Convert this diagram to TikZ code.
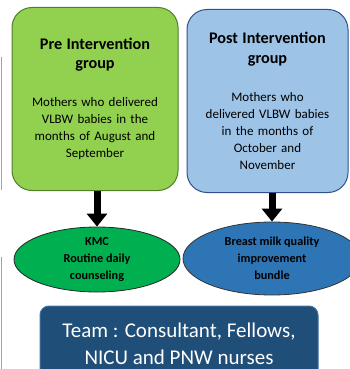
\documentclass[tikz,border=0pt]{standalone}
\usepackage{fontspec}
\setmainfont{Carlito}
\usepackage{xcolor}
\usepackage{tikz}
\usetikzlibrary{shapes.geometric, arrows.meta, positioning}
\definecolor{pregreen}{HTML}{92D050}
\definecolor{preborder}{HTML}{507E2C}
\definecolor{postblue}{HTML}{9DC3E6}
\definecolor{postborder}{HTML}{2F528F}
\definecolor{kmcgreen}{HTML}{00B050}
\definecolor{bundleblue}{HTML}{2E75B6}
\definecolor{teamblue}{HTML}{1F4E79}
\definecolor{teamborder}{HTML}{41719C}
\definecolor{edgeblue}{HTML}{8EA9C8}
\tikzstyle{groupbox} = [rectangle, rounded corners=20pt, minimum height=183pt, text centered, text width=156pt, inner sep=0pt, font=\fontsize{13}{17}\selectfont, line width=1pt]
\tikzstyle{action}   = [ellipse, inner sep=0pt, align=center, draw=black!85, line width=0.8pt, font=\bfseries\fontsize{12.2}{16.8}\selectfont]
\tikzstyle{arrow}    = [line width=7pt, -{Triangle[width=20pt, length=13pt]}]

\begin{document}
\begin{tikzpicture}[x=1pt, y=-1pt]
      \useasboundingbox (0,0) rectangle (350,369);
      % Nodes
      %% Groups
      \node (pre_group)  [groupbox, minimum width=166pt, draw=preborder, fill=pregreen] at (95,99)
            {{\bfseries\fontsize{16.2}{19.5}\selectfont Pre Intervention\\group\\[21pt]}Mothers who delivered\\VLBW babies in the\\months of August and\\September};
      \node (post_group) [groupbox, minimum width=161pt, draw=postborder, fill=postblue] at (267.5,101)
            {{\bfseries\fontsize{16.2}{19.5}\selectfont Post Intervention\\group\\[21pt]}Mothers who\\delivered VLBW babies\\in the months of\\October and\\November};
      %% Interventions
      \node (kmc)    [action, minimum width=166pt, minimum height=65pt, fill=kmcgreen] at (97,259.5) {KMC\\Routine daily\\counseling};
      \node (bundle) [action, minimum width=178pt, minimum height=73pt, fill=bundleblue, draw=black!80] at (272,258.5) {Breast milk quality\\improvement\\bundle};
      %% Team
      \node (team) [rectangle, rounded corners=9pt, minimum width=278pt, minimum height=76pt, fill=teamblue, draw=teamborder, line width=1pt, text=white, align=center, font=\fontsize{21}{27}\selectfont] at (179,344) {Team : Consultant, Fellows,\\NICU and PNW nurses};

      % Arrows
      \draw [arrow] (kmc.north |- pre_group.south)    -- (kmc.north);
      \draw [arrow] (bundle.north |- post_group.south) -- (bundle.north);

      % Cut edges on the left
      \draw [edgeblue, line width=1.2pt] (1.5,57) -- (1.5,190);
      \draw [edgeblue, line width=1.2pt] (1.5,257) -- (1.5,369);
\end{tikzpicture}
\end{document}
